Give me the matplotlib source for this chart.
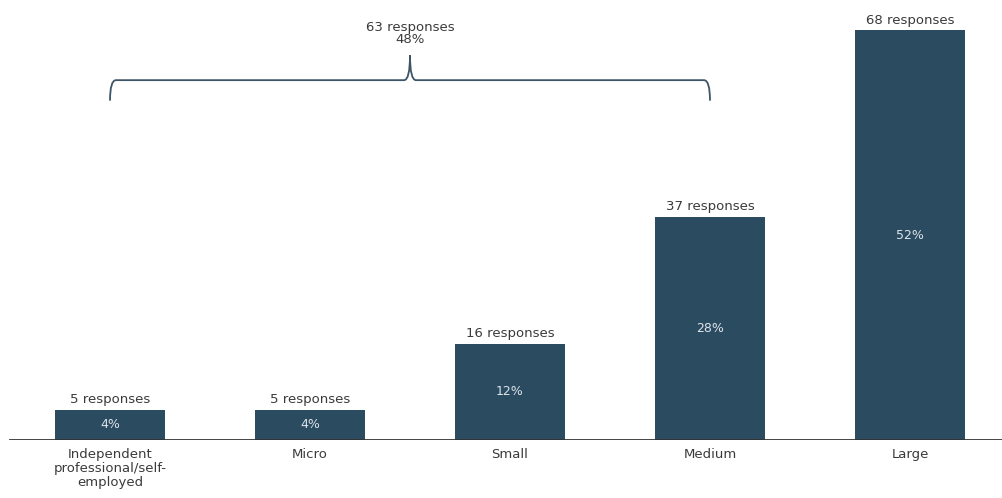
import matplotlib.pyplot as plt
from matplotlib.path import Path
from matplotlib.patches import PathPatch

categories = ['Independent\nprofessional/self-\nemployed', 'Micro', 'Small', 'Medium', 'Large']
responses = [5, 5, 16, 37, 68]
pct_labels = ['4%', '4%', '12%', '28%', '52%']
group_label = '63 responses\n48%'

BAR_COLOR = '#2b4b60'
TEXT_COLOR = '#3a3a3a'

fig = plt.figure(figsize=(10.03, 4.98), dpi=100)
ax = fig.add_axes([0.0, 0.1165, 1.0, 0.8835])

x = list(range(len(categories)))
bars = ax.bar(x, responses, width=0.55, color=BAR_COLOR, zorder=2)

for xi, r, p in zip(x, responses, pct_labels):
    ax.text(xi, r + 0.6, f'{r} responses', ha='center', va='bottom',
            fontsize=9.5, color=TEXT_COLOR)
    ax.text(xi, r / 2, p, ha='center', va='center', fontsize=9, color='#dde4ea')

ax.set_xlim(-0.5 - 0.05, 4.465)
ax.set_ylim(0, 73)
ax.axhline(0, xmin=0.01, color='#333333', lw=2, zorder=3)

# curly brace spanning Independent .. Medium
x0, x1 = x[0], x[3]
xm = (x0 + x1) / 2
y_end, y_mid, y_peak = 56.3, 59.7, 63.8
r = 0.03
verts = [
    (x0, y_end), (x0, y_mid), (x0 + r, y_mid),
    (xm - r, y_mid), (xm, y_mid), (xm, y_peak),
    (xm, y_mid), (xm + r, y_mid),
    (x1 - r, y_mid), (x1, y_mid), (x1, y_end),
]
codes = [Path.MOVETO, Path.CURVE3, Path.CURVE3,
         Path.LINETO, Path.CURVE3, Path.CURVE3,
         Path.MOVETO, Path.CURVE3,
         Path.LINETO, Path.CURVE3, Path.CURVE3]
verts[6] = (xm, y_peak)
verts[7] = (xm, y_mid)
verts.insert(8, (xm + r, y_mid))
codes.insert(8, Path.CURVE3)
ax.add_patch(PathPatch(Path(verts, codes), fill=False, edgecolor='#3d5566', lw=1.3))
ax.text(xm, 65.3, group_label, ha='center', va='bottom', fontsize=9.5,
        color=TEXT_COLOR, linespacing=0.95)

ax.set_xticks(x)
ax.set_xticklabels(categories, fontsize=9.5, color=TEXT_COLOR, linespacing=1.1)
ax.tick_params(axis='x', length=0, pad=6)
ax.set_yticks([])
for s in ax.spines.values():
    s.set_visible(False)

fig.savefig('out.png', dpi=100)
